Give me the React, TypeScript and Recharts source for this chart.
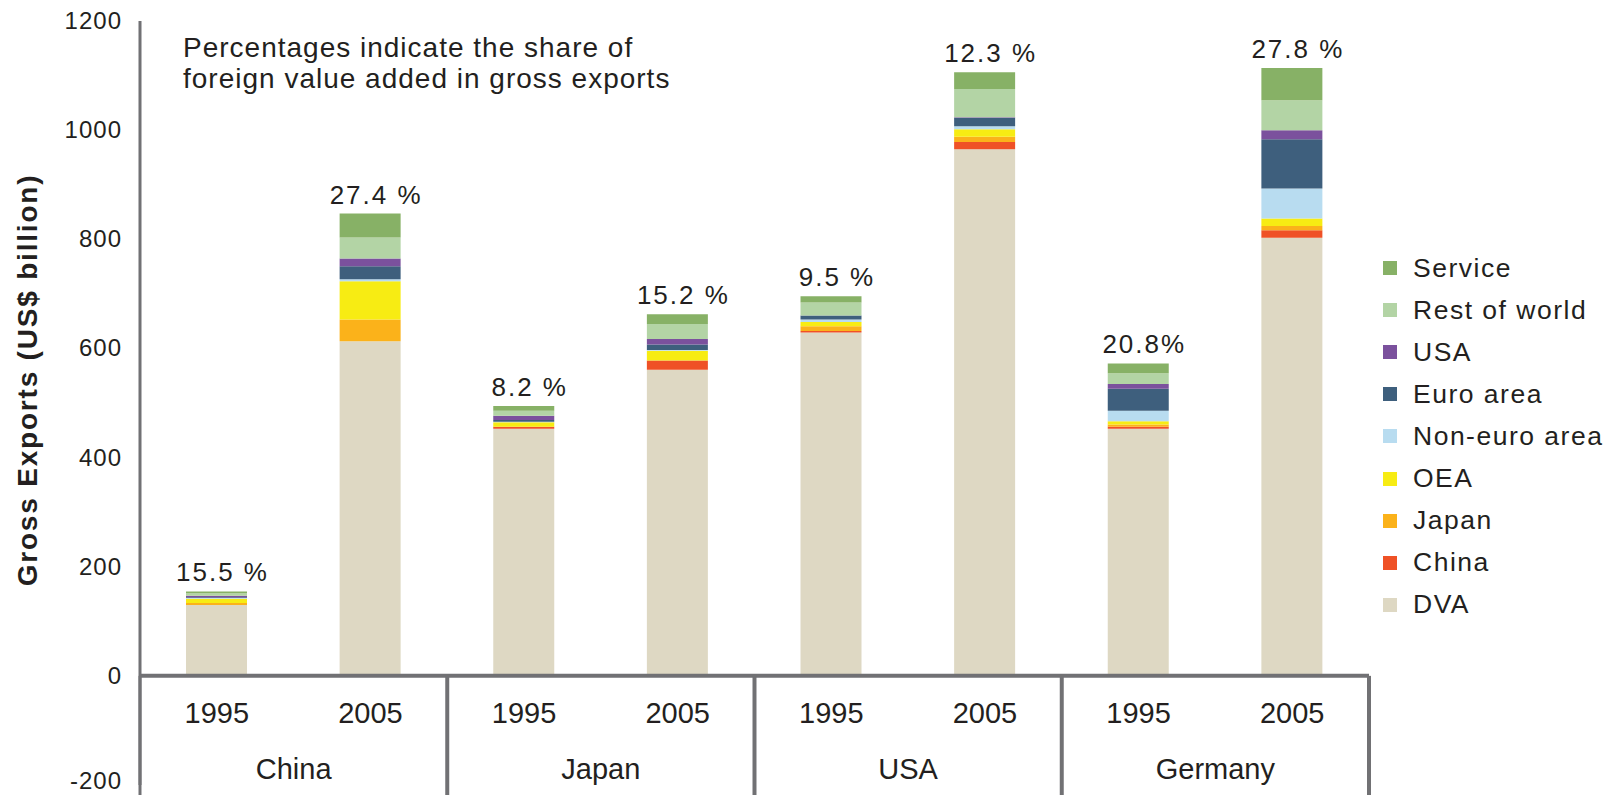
import React from "react";
import { BarChart, Bar, XAxis, YAxis, ReferenceLine, Legend, LabelList } from "recharts";

const FONT = "'Liberation Sans', Arial, Helvetica, sans-serif";
const TEXT = "#231f20";
const AXIS = "#717174";

const years = ["1995", "2005", "1995", "2005", "1995", "2005", "1995", "2005"];
const countries = ["China", "China", "Japan", "Japan", "USA", "USA", "Germany", "Germany"];
const shares = ["15.5 %", "27.4 %", "8.2 %", "15.2 %", "9.5 %", "12.3 %", "20.8%", "27.8 %"];
const yTicks = [-200, 0, 200, 400, 600, 800, 1000, 1200];

// foreign value added by source, US$ billion
const dva = [130, 613, 453, 561, 629, 965, 453, 803];
const china = [0, 0, 3.7, 17, 3, 13.5, 3.7, 13.5];
const japan = [3.5, 40, 0, 0, 8.6, 9.2, 3.7, 8];
const oea = [8, 70, 8, 17.7, 8, 14, 6, 13.5];
const nonEuro = [1.2, 3.7, 1, 1.2, 4.3, 5.5, 19.6, 55];
const euro = [1.5, 24, 3, 10.4, 7.3, 15.3, 40, 90.5];
const usa = [2.5, 14, 8, 9.8, 0, 1, 8.6, 16.5];
const restOfWorld = [4.5, 38.5, 9, 27.5, 23.9, 52, 20, 55];
const service = [3.5, 44, 9, 18, 11.6, 30.6, 18, 59];

const seriesNames = ["DVA", "China", "Japan", "OEA", "Non-euro area", "Euro area", "USA", "Rest of world", "Service"];
const seriesColors = ["#ded8c3", "#ef5126", "#fbb21a", "#f7ec13", "#b8dcf0", "#3e5f7d", "#7b519d", "#b3d4a5", "#87b166"];
const seriesValues = [dva, china, japan, oea, nonEuro, euro, usa, restOfWorld, service];

const rows = years.map((year, i) => {
  const row: Record<string, any> = { idx: i, year, country: countries[i], share: shares[i] };
  seriesValues.forEach((vals, s) => {
    row[`s${s}`] = vals[i];
  });
  return row;
});

const W = 1622;
const H = 795;
const M = { top: 21, right: 253, bottom: 0, left: 80 };
const Y_AXIS_W = 60;
const X_AXIS_H = 5;
const PLOT_L = M.left + Y_AXIS_W;
const PLOT_W = W - PLOT_L - M.right;
const PLOT_H = H - M.top - M.bottom - 2 * X_AXIS_H;
const STEP = PLOT_W / years.length;
const ZERO_Y = M.top + (PLOT_H * 1200) / 1400;

const YearTick = (props: any) => {
  const { x, index } = props;
  return (
    <text x={x} y={ZERO_Y + 47} textAnchor="middle" fontSize={29} fill={TEXT} fontFamily={FONT}>
      {years[index]}
    </text>
  );
};

const CountryTick = (props: any) => {
  const { x, index } = props;
  if (index % 2 === 1) return <g />;
  const mid = x + STEP / 2;
  const right = x + STEP * 1.5;
  return (
    <g>
      <text x={mid} y={ZERO_Y + 103} textAnchor="middle" fontSize={29} fill={TEXT} fontFamily={FONT}>
        {countries[index]}
      </text>
      <line x1={right} x2={right} y1={ZERO_Y} y2={H} stroke={AXIS} strokeWidth={4} />
      {index === 0 && (
        <line x1={x - STEP / 2} x2={x - STEP / 2} y1={ZERO_Y} y2={H} stroke={AXIS} strokeWidth={3} />
      )}
    </g>
  );
};

const ValueTick = (props: any) => {
  const { x, y, payload } = props;
  const lift = payload.value === -200 ? -4 : 0;
  return (
    <text
      x={x}
      y={y + lift}
      dy={8}
      textAnchor="end"
      fontSize={24}
      letterSpacing={1}
      fill={TEXT}
      fontFamily={FONT}
    >
      {payload.value}
    </text>
  );
};

const renderLegend = (props: any) => {
  const items = [...(props.payload || [])].sort(
    (a: any, b: any) => seriesNames.indexOf(b.value) - seriesNames.indexOf(a.value)
  );
  return (
    <div style={{ fontFamily: FONT }}>
      {items.map((it: any) => (
        <div key={it.value} style={{ display: "flex", alignItems: "center", height: 42.1 }}>
          <span style={{ width: 14, height: 14, background: it.color, marginRight: 16, flex: "none" }} />
          <span style={{ fontSize: 26.5, letterSpacing: 1.5, color: TEXT, whiteSpace: "nowrap" }}>{it.value}</span>
        </div>
      ))}
    </div>
  );
};

export default function App() {
  return (
    <div style={{ position: "absolute", left: 0, top: 0, width: W, height: H, background: "#fff" }}>
      <BarChart width={W} height={H} data={rows} margin={M} barSize={61}>
        <XAxis
          dataKey="idx"
          height={X_AXIS_H}
          axisLine={false}
          tickLine={false}
          interval={0}
          tick={<YearTick />}
        />
        <XAxis
          xAxisId="country"
          dataKey="idx"
          height={X_AXIS_H}
          axisLine={false}
          tickLine={false}
          interval={0}
          tick={<CountryTick />}
        />
        <YAxis
          width={Y_AXIS_W}
          domain={[-200, 1200]}
          ticks={yTicks}
          interval={0}
          tickLine={false}
          tickMargin={12}
          axisLine={{ stroke: AXIS, strokeWidth: 3 }}
          tick={<ValueTick />}
          label={{
            content: () => (
              <text
                x={37}
                y={380}
                transform="rotate(-90, 37, 380)"
                textAnchor="middle"
                fontSize={28}
                fontWeight="bold"
                letterSpacing={1.8}
                fill={TEXT}
                fontFamily={FONT}
              >
                Gross Exports (US$ billion)
              </text>
            ),
          }}
        />
        {seriesNames.map((name, s) => (
          <Bar
            key={name}
            dataKey={`s${s}`}
            name={name}
            stackId="a"
            fill={seriesColors[s]}
            isAnimationActive={false}
          >
            {s === seriesNames.length - 1 && (
              <LabelList
                dataKey="share"
                position="top"
                offset={10}
                dx={6}
                style={{ fontSize: 26, fill: TEXT, fontFamily: FONT, letterSpacing: 2 }}
              />
            )}
          </Bar>
        ))}
        <ReferenceLine y={0} stroke={AXIS} strokeWidth={4} />
        <Legend
          layout="vertical"
          align="center"
          verticalAlign="middle"
          content={renderLegend}
          wrapperStyle={{ left: 1383, top: 247, width: 235 }}
        />
      </BarChart>
      <div
        style={{
          position: "absolute",
          left: 183,
          top: 32,
          fontFamily: FONT,
          fontSize: 28,
          lineHeight: "31px",
          letterSpacing: 1.0,
          color: TEXT,
          whiteSpace: "nowrap",
        }}
      >
        Percentages indicate the share of
        <br />
        foreign value added in gross exports
      </div>
    </div>
  );
}
